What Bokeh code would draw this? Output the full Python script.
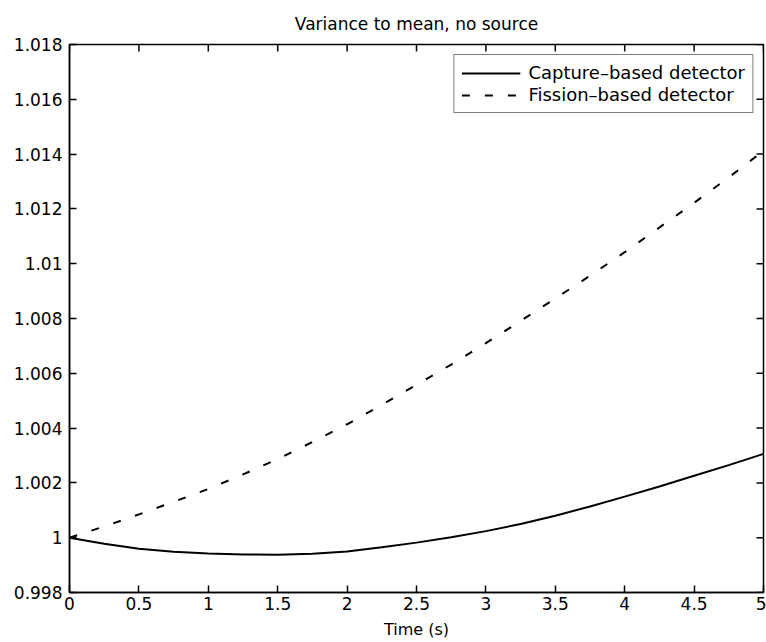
import math
from bokeh.plotting import figure
from bokeh.models import Range1d, FixedTicker, Legend, LegendItem
from bokeh.embed import file_html
from bokeh.resources import INLINE

# ---- data ----
time_s = [0.0, 0.25, 0.5, 0.75, 1.0, 1.25, 1.5, 1.75, 2.0, 2.25, 2.5,
          2.75, 3.0, 3.25, 3.5, 3.75, 4.0, 4.25, 4.5, 4.75, 5.0]
capture_based = [1.00000, 0.99978, 0.99960, 0.99949, 0.99942, 0.99939, 0.99938,
                 0.99941, 0.99950, 0.99965, 0.99982, 1.00002, 1.00024, 1.00050,
                 1.00080, 1.00114, 1.00150, 1.00187, 1.00226, 1.00265, 1.00306]
fission_based = [1.00000, 1.00041, 1.00085, 1.00131, 1.00178, 1.00231, 1.00287,
                 1.00349, 1.00414, 1.00485, 1.00558, 1.00632, 1.00710, 1.00791,
                 1.00873, 1.00956, 1.01042, 1.01132, 1.01222, 1.01315, 1.01412]

x_ticks = [0, 0.5, 1, 1.5, 2, 2.5, 3, 3.5, 4, 4.5, 5]
x_tick_labels = ["0", "0.5", "1", "1.5", "2", "2.5", "3", "3.5", "4", "4.5", "5"]
y_ticks = [0.998, 1.0, 1.002, 1.004, 1.006, 1.008, 1.01, 1.012, 1.014, 1.016, 1.018]
y_tick_labels = ["0.998", "1", "1.002", "1.004", "1.006", "1.008", "1.01",
                 "1.012", "1.014", "1.016", "1.018"]

title_text = "Variance to mean, no source"
x_label = "Time (s)"
series_names = ["Capture\u2013based detector", "Fission\u2013based detector"]

FONT = "DejaVu Sans"

x_min, x_max = x_ticks[0], x_ticks[-1]
y_min, y_max = y_ticks[0], y_ticks[-1]

p = figure(width=766, height=642, output_backend="svg", toolbar_location=None,
           x_range=Range1d(x_min, x_max), y_range=Range1d(y_min, y_max),
           min_border_left=69, min_border_right=3, min_border_top=44,
           min_border_bottom=50)

p.title.text = title_text
p.title.align = "center"
p.title.text_font = FONT
p.title.text_font_size = "17px"
p.title.text_font_style = "normal"
p.title.text_color = "black"
p.title.standoff = 22

p.background_fill_color = "white"
p.border_fill_color = "white"
p.outline_line_color = "black"
p.outline_line_width = 1.5
p.xgrid.visible = False
p.ygrid.visible = False

def style_axis(ax, ticks, labels):
    ax.ticker = FixedTicker(ticks=ticks)
    ax.major_label_overrides = {t: l for t, l in zip(ticks, labels)}
    ax.axis_line_color = "black"
    ax.axis_line_width = 1.5
    ax.major_tick_line_color = "black"
    ax.major_tick_line_width = 1.5
    ax.major_tick_in = 7
    ax.major_tick_out = 0
    ax.minor_tick_line_color = None
    ax.major_label_text_font = FONT
    ax.major_label_text_color = "black"
    ax.major_label_text_font_size = "17px"

xa = p.xaxis[0]
style_axis(xa, x_ticks, x_tick_labels)
xa.major_label_standoff = 4
xa.axis_label = x_label
xa.axis_label_text_font = FONT
xa.axis_label_text_font_size = "16px"
xa.axis_label_text_font_style = "normal"
xa.axis_label_text_color = "black"
xa.axis_label_standoff = 7

ya = p.yaxis[0]
style_axis(ya, y_ticks, y_tick_labels)
ya.major_label_standoff = 7

# inward ticks on the top and right edges of the box (clipped to the frame)
p.scatter(x=x_ticks, y=[y_max] * len(x_ticks), marker="dash", size=14,
          angle=math.pi / 2, line_color="black", line_width=1.5)
p.scatter(x=[x_max] * len(y_ticks), y=y_ticks, marker="dash", size=14,
          angle=0, line_color="black", line_width=1.5)

r1 = p.line(time_s, capture_based, line_color="black", line_width=2)
r2 = p.line(time_s, fission_based, line_color="black", line_width=2,
            line_dash="8 15")

legend = Legend(items=[LegendItem(label=series_names[0], renderers=[r1]),
                       LegendItem(label=series_names[1], renderers=[r2])],
                location="top_right")
legend.margin = 10
legend.padding = 7
legend.spacing = 1
legend.glyph_width = 59
legend.label_standoff = 8
legend.label_text_font = FONT
legend.label_text_font_size = "18px"
legend.label_text_color = "black"
legend.border_line_color = "black"
legend.border_line_width = 1.5
legend.background_fill_color = "white"
legend.background_fill_alpha = 1
p.add_layout(legend, "center")

open("out.html", "w").write(file_html(p, INLINE))
